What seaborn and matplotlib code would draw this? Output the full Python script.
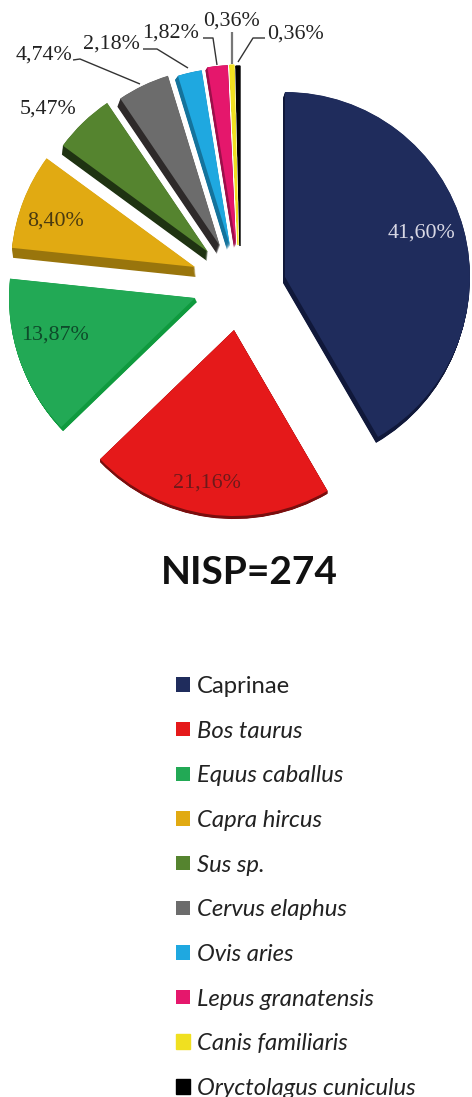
import matplotlib
matplotlib.use("Agg")
import matplotlib.pyplot as plt
import numpy as np
import seaborn as sns

# ---- data ----
taxa = ["Caprinae", "Bos taurus", "Equus caballus", "Capra hircus", "Sus sp.",
        "Cervus elaphus", "Ovis aries", "Lepus granatensis", "Canis familiaris",
        "Oryctolagus cuniculus"]
percent = [41.60, 21.16, 13.87, 8.40, 5.47, 4.74, 2.18, 1.82, 0.36, 0.36]
pct_labels = ["41,60%", "21,16%", "13,87%", "8,40%", "5,47%", "4,74%", "2,18%",
              "1,82%", "0,36%", "0,36%"]
title_text = "NISP=274"

# ---- styling / layout (image pixels, y measured from the top) ----
top_hex = ["#1F2C5C", "#E5191A", "#22A955", "#E1AA12", "#55842F",
           "#6C6C6C", "#1FA8E0", "#E5176C", "#F0E020", "#000000"]
side_hex = ["#10183A", "#7A0E0E", "#0F9A3E", "#99750C", "#1F3312",
            "#2E2A2A", "#14739C", "#9C0F4A", "#A89C10", "#000000"]
apex = [(285, 277), (234, 330), (195, 298), (195, 267), (208, 252),
        (220, 246), (230, 246), (236, 245), (238, 245), (240, 246)]
radius = [185, 186, 186, 184, 180, 178, 178, 180, 180, 180]
depth = [(-2, 6), (0, 3), (2, 4), (1, 10), (-1, 9),
         (-3, 8), (-3, 4), (-2, 3), (0, 0), (0, 0)]
label_pos = [(421, 233), (207, 483), (55, 335), (56, 221), (48, 109),
             (44, 55), (111, 44), (171, 33), (232, 21), (295, 34)]
label_col = ["#D8D8E4", "#6E1A1A", "#0E4A2A", "#4A3A10", "#222222",
             "#222222", "#222222", "#222222", "#222222", "#222222"]
leaders = [
    ([73, 80, 140], [60, 59, 84], "#333333", 1.0),
    ([143, 157, 188], [49, 49, 68], "#333333", 1.0),
    ([203, 213, 217], [38, 38, 65], "#333333", 1.0),
    ([232, 232], [32, 64], "#777777", 1.6),
    ([265, 253, 238], [38, 38, 62], "#333333", 1.0),
]

W, H = 472, 1097
sns.set_theme(style="white")
plt.rcParams["font.family"] = ["Lato", "DejaVu Sans"]
fig = plt.figure(figsize=(W / 100, H / 100), dpi=100, facecolor="white")
ax = fig.add_axes([0, 0, 1, 1])


def Y(y):
    return H - y


def draw_layer(colors, frac, z):
    wedges, _ = ax.pie(percent, colors=colors, startangle=90, counterclock=False,
                       wedgeprops={"linewidth": 0, "zorder": z})
    for i, w in enumerate(wedges):
        w.set_center((apex[i][0] + frac * depth[i][0], Y(apex[i][1] + frac * depth[i][1])))
        w.set_radius(radius[i])
        w.set_zorder(z)
    return wedges


side = sns.color_palette(side_hex)
top = sns.color_palette(top_hex)
for k, f in enumerate(np.linspace(1, 0.05, 12)):
    draw_layer(side, f, 2 + k * 0.01)
wedges = draw_layer(top, 0, 3)
# the two narrowest slices need a hairline to stay visible
for w in wedges[-2:]:
    w.set_edgecolor(w.get_facecolor())
    w.set_linewidth(1.0)

for xs, ys, c, lw in leaders:
    ax.plot(xs, [Y(v) for v in ys], color=c, lw=lw, zorder=4, solid_capstyle="butt")

for txt, (x, y), c in zip(pct_labels, label_pos, label_col):
    ax.text(x, Y(y), txt, ha="center", va="center", color=c, fontsize=15.8,
            family=["Liberation Serif"], zorder=5)

ax.text(249, Y(573), title_text, ha="center", va="center", fontsize=28,
        fontweight="bold", color="#111111")

leg = ax.legend(wedges, taxa, loc="upper left", bbox_to_anchor=(176 / W, 1 - 676 / H),
                frameon=False, fontsize=17.2, handlelength=0.58, handleheight=0.56,
                handletextpad=0.29, labelspacing=0.99, borderpad=0, borderaxespad=0,
                labelcolor="#222222")
for i, t in enumerate(leg.get_texts()):
    if i > 0:
        t.set_fontstyle("italic")

ax.set_xlim(0, W)
ax.set_ylim(0, H)
ax.set_aspect("equal")
ax.axis("off")
fig.savefig("out.png", dpi=100, facecolor="white")
